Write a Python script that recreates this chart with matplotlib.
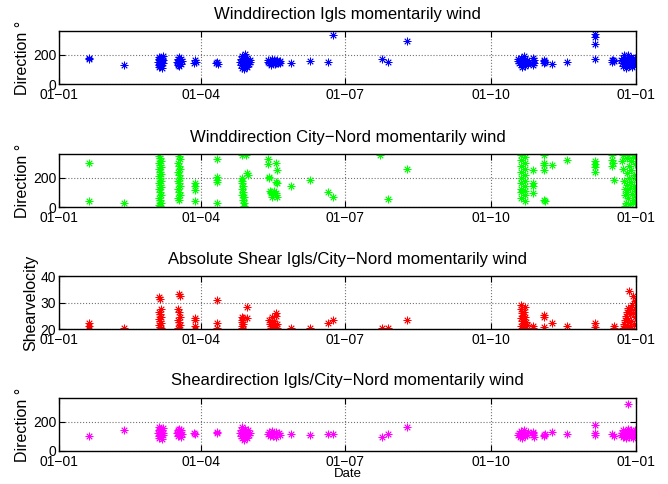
'''     wind direction / shear plots Igls vs City-Nord     '''
import matplotlib
matplotlib.use('Agg')
import matplotlib.pyplot as plt
import matplotlib.dates as mdates
from matplotlib.ticker import FuncFormatter
import pandas as pd

plt.rcParams['font.family'] = ['Liberation Sans', 'DejaVu Sans']

# (day of year, value)
igls_dir = [(19, 172), (19, 178), (41, 128),
            (62.5, 150), (63, 130), (63, 170), (63.5, 115), (63.5, 185), (64, 140), (64, 160), (64, 120),
            (64, 178), (64.5, 150), (64.5, 130), (65, 170), (65, 110), (65.5, 145), (65.5, 190), (66, 160),
            (63, 150), (65, 140),
            (74.5, 150), (75, 130), (75, 170), (75.5, 140), (76, 160), (76, 125), (76, 182), (76.5, 150),
            (77, 135), (77, 170), (77.5, 155),
            (85.5, 145), (86, 160), (86.5, 150), (99.5, 140), (100, 150), (100.5, 135),
            (114.5, 150), (115, 130), (115, 170), (115.5, 190), (116, 110), (116, 145), (116.5, 160),
            (117, 100), (117, 130), (117, 180), (117.5, 150), (117.5, 205), (118, 120), (118, 165),
            (118.5, 140), (119, 180), (119, 115), (119.5, 155), (120, 135), (120.5, 165), (121, 150),
            (132, 150), (132.5, 165), (133, 140), (133.5, 155), (134, 130), (134.5, 170), (135, 150),
            (135.5, 140), (136, 160), (136.5, 135), (137, 155), (137.5, 145), (138, 165), (138.5, 140),
            (139, 150), (139.5, 158), (140, 145),
            (147, 145), (159, 158), (170, 147), (173, 332), (204, 170), (208, 147), (220, 291),
            (290, 155), (290.5, 170), (291, 140), (291.5, 160), (292, 130), (292, 180), (292.5, 150),
            (293, 115), (293, 165), (293.5, 140), (294, 190), (294, 155), (294.5, 125), (295, 170),
            (295.5, 145), (296, 160), (296.5, 135), (297, 150),
            (299.5, 130), (300, 150), (300, 175), (300.5, 140), (300.5, 165),
            (306.5, 158), (307, 165), (307.5, 150), (307, 145), (312, 135), (321, 148),
            (339, 337), (339, 318), (339, 275), (339, 170),
            (349.5, 160), (350, 150), (350.5, 165), (351, 155),
            (355.5, 160), (356, 140), (356.5, 175), (357, 120), (357, 155), (357.5, 195), (358, 135),
            (358, 165), (358.5, 110), (358.5, 150), (359, 180), (359.5, 130), (359.5, 160), (360, 145),
            (360, 200), (360.5, 120), (361, 170), (361, 150), (361.5, 135), (362, 160), (362, 185),
            (362.5, 115), (363, 145), (363, 170), (363.5, 130), (364, 155), (364, 175), (364.5, 140),
            (364.8, 160)]

city_dir = [(19, 300), (19, 44), (41, 27),
            (63.5, 345), (64, 330), (64.5, 315), (63.5, 300), (64, 285), (64.5, 270), (63.5, 255),
            (64, 240), (64.5, 225), (63.5, 210), (64, 195), (64.5, 180), (63.5, 165), (64, 150),
            (64.5, 135), (63.5, 120), (64, 100), (64.5, 80), (63.5, 60), (64, 45), (64.5, 30),
            (63.5, 15), (64, 5),
            (76, 345), (76.5, 325), (75.5, 300), (76, 280), (76.5, 260), (75.5, 240), (76, 220),
            (76.5, 200), (75.5, 180), (76, 160), (76.5, 140), (75.5, 120), (76, 100), (76.5, 80),
            (75.5, 60), (76, 45),
            (86, 160), (86, 140), (86, 115), (86, 38),
            (100, 325), (100, 205), (100, 185), (100, 170), (100, 25),
            (115.5, 350), (116, 200), (116, 180), (116, 160), (116.5, 140), (116, 120), (116.5, 100),
            (116, 80), (117, 65), (116.5, 50), (117, 25), (117, 10), (118.5, 350), (119, 230),
            (119.5, 215),
            (132, 325), (132.5, 295), (133, 205), (133, 195), (133.5, 110), (134, 95), (134.5, 65),
            (134, 100), (136, 110), (137, 95), (137.5, 300), (138, 250), (137.5, 170), (138, 160),
            (137.5, 80), (138, 70),
            (147, 145), (159, 182), (170, 105), (173, 71), (203, 353), (208, 55), (220, 260),
            (292.5, 350), (295, 340), (292.5, 320), (295, 300), (292.5, 280), (295, 260), (292.5, 240),
            (295, 220), (292.5, 200), (295, 180), (292.5, 160), (295, 140), (292.5, 120), (295, 110),
            (292.5, 100), (295, 80), (292.5, 60), (295, 40),
            (300, 250), (300, 160), (300, 140), (300, 93),
            (307, 355), (307, 300), (307, 285), (307, 250), (307, 50), (307.5, 40),
            (312, 285), (321, 320),
            (339, 315), (339, 295), (339, 270), (339, 240),
            (350, 350), (350, 320), (350.5, 300), (350, 280), (351, 182),
            (356, 310), (357, 350), (357, 260), (357.5, 180), (358, 120), (358, 80), (358.5, 30),
            (358, 5), (359, 330), (359, 230), (359.5, 150), (359.5, 100), (360, 60), (360, 350),
            (360.5, 280), (360.5, 200), (361, 130), (361, 20), (361.5, 310), (362, 250), (362, 170),
            (362.5, 90), (363, 50), (363, 340), (363.5, 220), (363.5, 140), (364, 290), (364, 110),
            (364.5, 30), (364.5, 350), (364.8, 190), (364.8, 70)]

shear_vel = [(19, 22.4), (19, 21.1), (19, 20), (41, 20.2),
             (63.5, 32.2), (64, 31.5), (64.5, 27.5), (63.5, 26.5), (64, 25.5), (64.5, 24.5),
             (63.5, 23.8), (64, 23), (64.5, 22.3), (63.5, 21.5), (64, 20.8), (64.5, 20.2),
             (76, 33.2), (76.5, 32.5), (75.5, 27.5), (76, 26.5), (76.5, 24.5), (75.5, 23.5),
             (76, 22.5), (76.5, 21.5), (75.5, 20.5), (76, 20),
             (86, 24.2), (86, 23.4), (86, 21), (86, 20),
             (100, 31.1), (100, 22.4), (100, 20.2),
             (116, 24.6), (116.5, 24), (115.5, 23.4), (116, 22.5), (116.5, 21.8), (115.5, 21),
             (116, 20.4), (116.5, 20), (119, 28.4), (119, 24.2),
             (133, 23.5), (133.5, 22), (134, 21), (134, 20.2), (135, 24.5), (135.5, 20.5), (136, 23),
             (136.5, 21.5), (137, 26), (137.5, 25), (138, 22), (138, 20.3),
             (147, 20.2), (159, 20.2), (170, 22.1), (173, 23.4), (204, 20.2), (208, 20.2), (220, 23.4),
             (292, 29), (292.5, 27.5), (293, 26), (293.5, 25), (292, 24), (293, 23), (294, 22),
             (292.5, 21), (293.5, 20.3), (295, 28.3), (295, 24.5), (295.5, 22.5), (296, 21.5),
             (295, 20.2), (294, 26.5),
             (300, 21.2), (300, 20.2), (307, 25.2), (307, 24.4), (307, 20.6),
             (312, 22.4), (321, 21.2), (339, 22.4), (339, 20.9), (351, 21.1), (351, 20.2),
             (357, 20.5), (357.5, 22), (358, 23.5), (358, 21), (358.5, 25), (359, 26.5), (359, 20.2),
             (359.5, 24), (360, 28), (360, 22.5), (360.5, 34.2), (360.5, 27), (361, 21.2), (361, 25.5),
             (361.5, 23), (362, 27.5), (362, 20.5), (362.5, 29), (363, 32.5), (363, 26), (363.5, 22),
             (364, 30.5), (364, 24.5), (364.5, 27.5), (364.7, 21.5), (364.7, 31)]

shear_dir = [(19, 100), (41, 140),
             (62.5, 120), (63, 100), (63, 140), (63.5, 85), (63.5, 160), (64, 110), (64, 130), (64, 150),
             (64.5, 95), (64.5, 120), (65, 140), (65, 80), (65.5, 110), (65.5, 155), (66, 125),
             (74.5, 120), (75, 100), (75, 140), (75.5, 130), (76, 110), (76, 150), (76.5, 125), (77, 95),
             (77, 140), (77.5, 115),
             (86, 118), (85.5, 125), (100, 130), (100, 120),
             (114.5, 120), (115, 100), (115, 140), (116, 85), (116, 160), (116.5, 115), (117, 130),
             (117, 75), (117.5, 150), (118, 105), (118, 135), (118.5, 120), (119, 90), (119.5, 140),
             (120, 110), (120.5, 125),
             (132, 115), (133, 130), (133.5, 100), (134, 120), (135, 135), (135.5, 105), (136, 120),
             (137, 95), (137.5, 130), (138, 115), (139, 125), (140, 110),
             (147, 118), (159, 111), (170, 118), (173, 118), (204, 95), (208, 118), (220, 163),
             (290, 110), (291, 125), (291.5, 95), (292, 135), (292.5, 110), (293, 85), (293.5, 120),
             (294, 140), (294.5, 100), (295, 125), (296, 110), (296.5, 130),
             (299.5, 110), (300, 125), (300.5, 95), (300, 130),
             (306.5, 110), (307, 100), (307.5, 118), (312, 130), (321, 118),
             (339, 175), (339, 107), (339, 120), (350, 113), (351, 105),
             (355.5, 110), (356, 125), (356.5, 95), (357, 140), (357.5, 105), (358, 120), (358.5, 85),
             (359, 135), (359.5, 110), (360, 322), (360, 150), (360.5, 95), (361, 125), (361.5, 105),
             (362, 140), (362.5, 115), (363, 90), (363.5, 130), (364, 110), (364.5, 145), (364.8, 100)]

titles = ['Winddirection Igls momentarily wind',
          'Winddirection City\u2212Nord momentarily wind',
          'Absolute Shear Igls/City\u2212Nord momentarily wind',
          'Sheardirection Igls/City\u2212Nord momentarily wind']
ylabels = ['Direction \u00b0', 'Direction \u00b0', 'Shearvelocity', 'Direction \u00b0']
series = [igls_dir, city_dir, shear_vel, shear_dir]
colors = ['#0000ff', '#00ff00', '#ff0000', '#ff00ff']
ylims = [(0, 360), (0, 360), (20, 40), (0, 360)]
yticks = [[0, 200], [0, 200], [20, 30, 40], [0, 200]]

start = pd.Timestamp('2009-01-01')
end = pd.Timestamp('2010-01-01')

fig = plt.figure(figsize=(6.68, 4.84), dpi=100)
bottoms = [0.8264, 0.5723, 0.3202, 0.0682]

for i in range(4):
    ax = fig.add_axes([0.0883, bottoms[i], 0.864, 0.1095])
    days = [p[0] for p in series[i]]
    vals = [p[1] for p in series[i]]
    dates = start + pd.to_timedelta(days, unit='D')
    ax.plot(dates, vals, linestyle='none', marker=(8, 2, 0), markersize=5.5,
            markeredgewidth=0.6, color=colors[i])
    ax.set_xlim(start, end)
    ax.set_ylim(*ylims[i])
    ax.set_yticks(yticks[i])
    ax.xaxis.set_major_locator(mdates.MonthLocator(bymonth=[1, 4, 7, 10]))
    ax.xaxis.set_major_formatter(FuncFormatter(
        lambda x, pos: mdates.num2date(x).strftime('%d-%m').replace('-', '\u2212')))
    ax.grid(True, linestyle=':', color='0.45', linewidth=0.8)
    ax.tick_params(direction='in', top=True, right=True, length=4, labelsize=10)
    ax.tick_params(axis='x', pad=3)
    ax.tick_params(axis='y', pad=2)
    for s in ax.spines.values():
        s.set_linewidth(1.0)
    ax.set_title(titles[i], fontsize=12, pad=9)
    ax.set_ylabel(ylabels[i], fontsize=11.5, labelpad=2)

ax.set_xlabel('Date', fontsize=9.5, labelpad=-1)

plt.savefig('out.png', dpi=100)
